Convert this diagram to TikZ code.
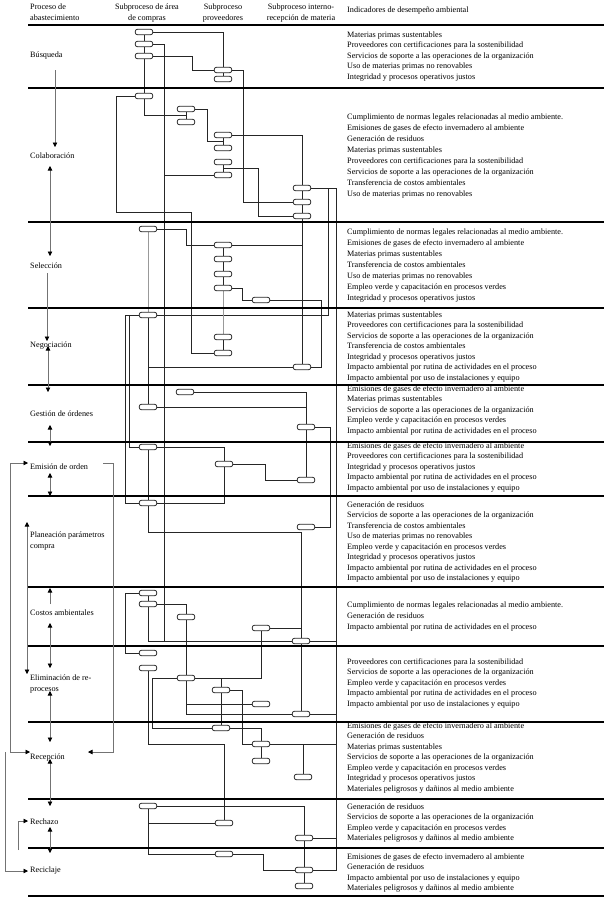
\documentclass[tikz,border=0pt]{standalone}
\usepackage{fontspec}
\setmainfont{Liberation Serif}
\usetikzlibrary{arrows.meta,calc,backgrounds}
\begin{document}
\begin{tikzpicture}[x=1pt,y=-1pt,
  pill/.style={draw=black!85, rounded corners=2.2pt, minimum width=17.5pt, minimum height=5.5pt, inner sep=0pt, fill=white, line width=0.8pt},
  conn/.style={draw=black!85, line width=0.75pt},
  faint/.style={draw=black!40, line width=0.6pt},
  arr/.style={draw=black!55, line width=0.6pt, -{Triangle[length=4.5pt,width=4.5pt,color=black]}},
  darr/.style={draw=black!55, line width=0.6pt, {Triangle[length=4.5pt,width=4.5pt,color=black]}-{Triangle[length=4.5pt,width=4.5pt,color=black]}},
  lab/.style={font=\fontsize{8.2}{10.5}\selectfont, inner sep=0pt, anchor=west},
  hdr/.style={font=\fontsize{8.2}{11}\selectfont, inner sep=0pt, align=center, anchor=north},
  ind/.style={font=\fontsize{8.2}{10.5}\selectfont, inner sep=0pt, align=left, anchor=north west},
  indw/.style={font=\fontsize{8.2}{11}\selectfont, inner sep=0pt, align=left, anchor=north west}
]
\useasboundingbox (0,0) rectangle (606,900);

% separators
\foreach \yy in {25,88,222,308,385,442,496,587,646,722,799,848,896}{
  \draw[line width=1.1pt] (28,\yy) -- (604,\yy);
  \draw[line width=2.6pt] (345,\yy) -- (604,\yy);
}

% headers
\node[lab, align=left, anchor=north west, font=\fontsize{8.2}{11}\selectfont] (h1) at (30,3.5) {Proceso de\\abastecimiento};
\node[hdr] (h2) at (147,3.5) {Subproceso de área\\de compras};
\node[hdr] (h3) at (223,3.5) {Subproceso\\proveedores};
\node[hdr] (h4) at (301,3.5) {Subproceso interno-\\recepción de materia};
\node[lab] (h5) at (347,11) {Indicadores de desempeño ambiental};

% stage labels
\node[lab] (st1) at (30,56) {Búsqueda};
\node[lab] (st2) at (30,156) {Colaboración};
\node[lab] (st3) at (30,266) {Selección};
\node[lab] (st4) at (30,346) {Negociación};
\node[lab] (st5) at (30,414) {Gestión de órdenes};
\node[lab] (st6) at (30,467) {Emisión de orden};
\node[lab, align=left, anchor=north west] (st7) at (30,532) {Planeación parámetros\\compra};
\node[lab] (st8) at (30,613) {Costos ambientales};
\node[lab, align=left, anchor=north west] (st9) at (30,675) {Eliminación de re-\\procesos};
\node[lab] (st10) at (30,758) {Recepción};
\node[lab] (st11) at (30,822) {Rechazo};
\node[lab] (st12) at (30,871) {Reciclaje};

% indicators
\node[ind] (i1) at (347,31.4) {Materias primas sustentables\\Proveedores con certificaciones para la sostenibilidad\\Servicios de soporte a las operaciones de la organización\\Uso de materias primas no renovables\\Integridad y procesos operativos justos};
\node[indw] (i2) at (347,113.4) {Cumplimiento de normas legales relacionadas al medio ambiente.\\Emisiones de gases de efecto invernadero al ambiente\\Generación de residuos\\Materias primas sustentables\\Proveedores con certificaciones para la sostenibilidad\\Servicios de soporte a las operaciones de la organización\\Transferencia de costos ambientales\\Uso de materias primas no renovables};
\node[indw] (i3) at (347,228.4) {Cumplimiento de normas legales relacionadas al medio ambiente.\\Emisiones de gases de efecto invernadero al ambiente\\Materias primas sustentables\\Transferencia de costos ambientales\\Uso de materias primas no renovables\\Empleo verde y capacitación en procesos verdes\\Integridad y procesos operativos justos};
\node[ind] (i4) at (347,311.4) {Materias primas sustentables\\Proveedores con certificaciones para la sostenibilidad\\Servicios de soporte a las operaciones de la organización\\Transferencia de costos ambientales\\Integridad y procesos operativos justos\\Impacto ambiental por rutina de actividades en el proceso\\Impacto ambiental por uso de instalaciones y equipo};
\node[ind] (i5) at (347,385.4) {Emisiones de gases de efecto invernadero al ambiente\\Materias primas sustentables\\Servicios de soporte a las operaciones de la organización\\Empleo verde y capacitación en procesos verdes\\Impacto ambiental por rutina de actividades en el proceso};
\node[ind] (i6) at (347,442.4) {Emisiones de gases de efecto invernadero al ambiente\\Proveedores con certificaciones para la sostenibilidad\\Integridad y procesos operativos justos\\Impacto ambiental por rutina de actividades en el proceso\\Impacto ambiental por uso de instalaciones y equipo};
\node[ind] (i7) at (347,501.4) {Generación de residuos\\Servicios de soporte a las operaciones de la organización\\Transferencia de costos ambientales\\Uso de materias primas no renovables\\Empleo verde y capacitación en procesos verdes\\Integridad y procesos operativos justos\\Impacto ambiental por rutina de actividades en el proceso\\Impacto ambiental por uso de instalaciones y equipo};
\node[indw] (i8) at (347,601.4) {Cumplimiento de normas legales relacionadas al medio ambiente.\\Generación de residuos\\Impacto ambiental por rutina de actividades en el proceso};
\node[ind] (i9) at (347,658.4) {Proveedores con certificaciones para la sostenibilidad\\Servicios de soporte a las operaciones de la organización\\Empleo verde y capacitación en procesos verdes\\Impacto ambiental por rutina de actividades en el proceso\\Impacto ambiental por uso de instalaciones y equipo};
\node[ind] (i10) at (347,722.4) {Emisiones de gases de efecto invernadero al ambiente\\Generación de residuos\\Materias primas sustentables\\Servicios de soporte a las operaciones de la organización\\Empleo verde y capacitación en procesos verdes\\Integridad y procesos operativos justos\\Materiales peligrosos y dañinos al medio ambiente};
\node[ind] (i11) at (347,803.4) {Generación de residuos\\Servicios de soporte a las operaciones de la organización\\Empleo verde y capacitación en procesos verdes\\Materiales peligrosos y dañinos al medio ambiente};
\node[ind] (i12) at (347,853.4) {Emisiones de gases de efecto invernadero al ambiente\\Generación de residuos\\Impacto ambiental por uso de instalaciones y equipo\\Materiales peligrosos y dañinos al medio ambiente};

% pills
\node[pill] (A1) at (144,32) {};
\node[pill] (A2) at (144,44) {};
\node[pill] (A3) at (144,56) {};
\node[pill] (A4) at (144,96) {};
\node[pill] (P1) at (223,70) {};
\node[pill] (P2) at (223,79) {};
\node[pill] (B1) at (186,109) {};
\node[pill] (B2) at (186,122) {};
\node[pill] (C1) at (223,135) {};
\node[pill] (C2) at (223,148) {};
\node[pill] (C3) at (223,162) {};
\node[pill] (C4) at (223,175) {};
\node[pill] (R1) at (302,188) {};
\node[pill] (R2) at (302,202) {};
\node[pill] (R3) at (302,216) {};
\node[pill] (S0) at (148,229) {};
\node[pill] (S1) at (223,245) {};
\node[pill] (S2) at (223,259) {};
\node[pill] (S3) at (223,274) {};
\node[pill] (S4) at (223,288) {};
\node[pill] (S5) at (261,300) {};
\node[pill] (N1) at (148,315) {};
\node[pill] (N4) at (223,337) {};
\node[pill] (N5) at (223,353) {};
\node[pill] (N6) at (302,367) {};
\node[pill] (G1) at (185,392) {};
\node[pill] (G2) at (148,407) {};
\node[pill] (G4) at (306,427) {};
\node[pill] (E1) at (148,447) {};
\node[pill] (E3) at (224,464) {};
\node[pill] (E4) at (306,480) {};
\node[pill] (E2) at (148,503) {};
\node[pill] (PL1) at (306,527) {};
\node[pill] (K1) at (148,593) {};
\node[pill] (K2) at (148,604) {};
\node[pill] (K3) at (186,617) {};
\node[pill] (K4) at (261,628) {};
\node[pill] (K5) at (301,641) {};
\node[pill] (L1) at (148,653) {};
\node[pill] (L2) at (148,668) {};
\node[pill] (L3) at (186,678) {};
\node[pill] (L4) at (221,690) {};
\node[pill] (L5) at (261,704) {};
\node[pill] (L6) at (301,714) {};
\node[pill] (M1) at (221,728) {};
\node[pill] (M2) at (261,744) {};
\node[pill] (M3) at (261,761) {};
\node[pill] (M4) at (303,777) {};
\node[pill] (Z1) at (148,806) {};
\node[pill] (Z2) at (224,823) {};
\node[pill] (Z3) at (304,838) {};
\node[pill] (Y1) at (224,854) {};
\node[pill] (Y2) at (304,870) {};
\node[pill] (Y3) at (304,886) {};
\coordinate (j1) at (164,641);
\coordinate (vx) at (336,188);

\begin{scope}[on background layer]
% Busqueda
\draw[conn] (A1) -- (A2) -- (A3) -- (A4);
\draw[conn] (A1.east) -| (P1.north);
\draw[conn] (A2.east) -| (j1);
\draw[conn] (A3.east) -- ++(39,0) |- (P1.west);
\draw[conn] (P1) -- (P2);
\draw[conn] (P1.east) -- ++(11,0) |- (R2.west);
% Colaboracion
\draw[conn] (A4.west) -- ++(-18,0) |- (191,212) |- (N5.west);
\draw[conn] (A4.south) |- ($(B1)!0.5!(B2)$);
\draw[conn] (B1) -- (B2);
\draw[conn] (B1.east) -- ++(12,0) |- ($(C1)!0.5!(C2)$);
\draw[conn] (C1) -- (C2);
\draw[conn] (C3) -- (C4);
\draw[conn] (C1.east) -| (R1.north);
\draw[conn] (C4.west) -- (C4.west -| j1);
\draw[conn] ($(C3)!0.5!(C4)$) -- ++(35,0) |- (R3.west);
\draw[conn] (R1) -- (R2) -- (R3) -- (N6);
\draw[conn] (R1.east) -- ++(17,0) |- (N1.east);
\draw[conn] (R1.east) -- (vx) |- (Y2.east);
% Seleccion
\draw[conn] (S0.east) -- ++(29,0) |- (S1.west);
\draw[faint] (S0) -- (N1);
\draw[conn] (S1) -- (S2) -- (S3) -- (S4);
\draw[faint] (S4) -- (N4);
\draw[conn] (N4) -- (N5);
\draw[conn] (S1.east) -- (S1.east -| R3);
\draw[conn] (S4.east) -- ++(10,0) |- (S5.west);
\draw[conn] (S5.east) -- ++(51,0) |- (N6.east);
% Negociacion
\draw[conn] (N1) -- (G2);
\draw[conn] (N1.south |- N6.west) -- (N6.west);
\draw[conn] (N1.west) -- ++(-9,0) |- (E1.west);
\draw[conn] (N1.west) -- ++(-13,0) |- (E2.west);
% Gestion
\draw[conn] (G1.east) -| (G4.north);
\draw[conn] (G2.east) -- (G2.east -| G4);
\draw[conn] (G4) -- (E4);
\draw[conn] (G4.east) -- ++(15,0) |- (PL1.east);
% Emision
\draw[conn] (E1.east) -| (E3.north);
\draw[conn] (E1) -- (E2);
\draw[conn] (E3.east) -- ++(32,0) |- (E4.west);
\draw[conn] (E3.south) |- (E2.east);
\draw[conn] (E2.south) -- ++(0,26) -| (K5.north);
% Costos
\draw[conn] (K1) -- (K2);
\draw[conn] (K1.west) -- ++(-13,0) |- (L1.west);
\draw[conn] (K2.east) -| (K3.north);
\draw[conn] (K3) -- (L3);
\draw[conn] (K2.south) |- (K5.west);
\draw[conn] (K4.east) -- (K4.east -| K5);
\draw[conn] (K4.south) |- (L3.east);
\draw[conn] (K5.east) -- (K5.east -| vx);
\draw[conn] (K5) -- (L6);
% Eliminacion
\draw[conn] (L3.east) -| (L4.north);
\draw[conn] (L3.west) -- ++(-24,0) |- (M1.west);
\draw[conn] (L3.south) |- (L6.west);
\draw[conn] (L5.west) -- (L5.west -| L3);
\draw[conn] (L4) -- (M1);
\draw[conn] (L4.east) -- ++(12,0) |- (M2.west);
\draw[conn] (L6.east) -- (L6.east -| vx);
\draw[conn] (L2.south) -- ++(0,73.25) -| (Z2.north);
% Recepcion
\draw[conn] (M1.east) -| (M2.north);
\draw[conn] (M2) -- (M3);
\draw[conn] (M2.east) -| (M4.north);
\draw[conn] (M2.east) -- (M2.east -| vx);
% Rechazo / Reciclaje
\draw[conn] (Z1.east) -| (Z3.north);
\draw[conn] (Z1.south) |- (Y1.west);
\draw[conn] (Z2.west) -- (Z2.west -| Z1);
\draw[conn] (Z3.east) -- (Z3.east -| vx);
\draw[conn] (Z3) -- (Y2) -- (Y3);
\draw[conn] (Y1.east) -- ++(30,0) |- (Y2.west);
\end{scope}

% left column arrows
\draw[arr] (55,70) -- (55,147);
\draw[darr] (50,166) -- (50,256);
\draw[arr] (47,273) -- (47,341);
\draw[darr] (48,346) -- (48,392);
\draw[darr] (50,425) -- (50,446);
\draw[darr] (50,473) -- (50,496);
\draw[darr] (27,522) -- (27,674);
\draw[arr] (50,604) -- (50,588);
\draw[darr] (50,623) -- (50,668);
\draw[darr] (50,691) -- (50,742);
\draw[darr] (50,759) -- (50,806);
\draw[darr] (50,827) -- (50,853);
\draw[darr] (28,463) -- (10,463) -- (10,752) -- (30,752);
\draw[arr] (103,463) -- (113,463) -- (113,752) -- (88,752);
\draw[arr] (5,752) -- (5,871) -- (28,871);
\draw[arr] (18,850) -- (18,821) -- (28,821);
\end{tikzpicture}
\end{document}
